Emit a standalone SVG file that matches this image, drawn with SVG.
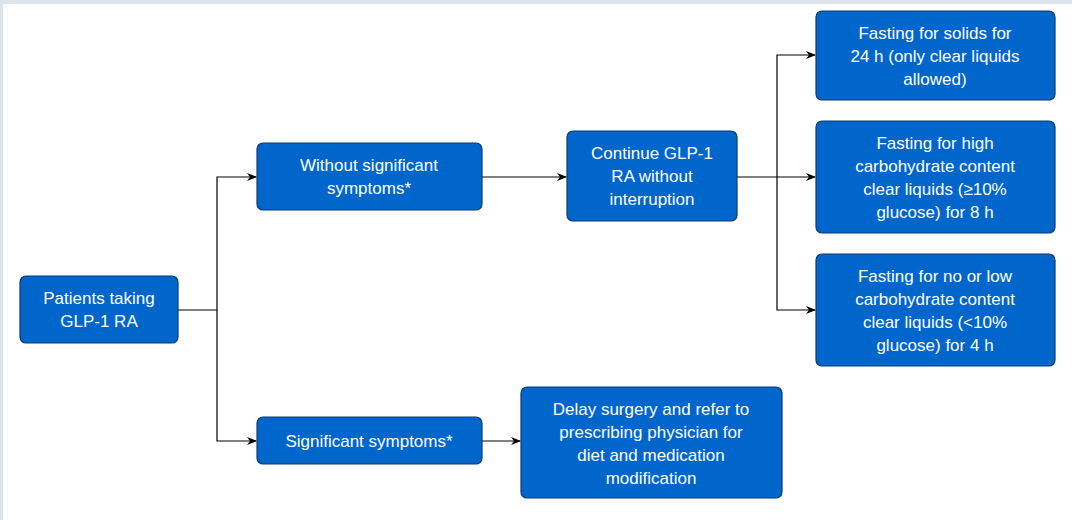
<svg xmlns="http://www.w3.org/2000/svg" width="1072" height="520" viewBox="0 0 1072 520">
<style>
.n rect{fill:#0066cc;stroke:#0b3a6e;stroke-width:1.2}
.n text{fill:#fff;font-family:"Liberation Sans",Arial,sans-serif;font-size:17px;text-anchor:middle}
.c path{fill:none;stroke:#000;stroke-width:1.2}
</style>
<defs><marker id="a" markerWidth="10" markerHeight="8" refX="9" refY="4" orient="auto" markerUnits="userSpaceOnUse"><path d="M0,0 L10,4 L0,8 L3,4 Z" fill="#000"/></marker></defs>
<rect width="1072" height="520" fill="#dce3ec"/>
<rect x="3" y="4" width="1069" height="516" fill="#fff"/>
<g class="c">
<path d="M178,310 H217 V177 H256" marker-end="url(#a)"/>
<path d="M217,310 V441 H256" marker-end="url(#a)"/>
<path d="M482,177 H566" marker-end="url(#a)"/>
<path d="M482,441 H520" marker-end="url(#a)"/>
<path d="M737,177 H815" marker-end="url(#a)"/>
<path d="M777,177 V55 H815" marker-end="url(#a)"/>
<path d="M777,177 V310 H815" marker-end="url(#a)"/>
</g>
<g id="patients" class="n"><rect x="20" y="276" width="158" height="67" rx="6"/><text x="99" y="304">Patients taking</text><text x="99" y="327">GLP-1 RA</text></g>
<g id="without" class="n"><rect x="257" y="143" width="225" height="67" rx="6"/><text x="369" y="171">Without significant</text><text x="369" y="194">symptoms*</text></g>
<g id="significant" class="n"><rect x="257" y="417" width="225" height="47" rx="6"/><text x="369" y="447">Significant symptoms*</text></g>
<g id="continue" class="n"><rect x="567" y="131" width="170" height="90" rx="6"/><text x="652" y="159">Continue GLP-1</text><text x="652" y="182">RA without</text><text x="652" y="205">interruption</text></g>
<g id="delay" class="n"><rect x="521" y="387" width="261" height="111" rx="6"/><text x="651" y="415">Delay surgery and refer to</text><text x="651" y="438">prescribing physician for</text><text x="651" y="461">diet and medication</text><text x="651" y="484">modification</text></g>
<g id="f1" class="n"><rect x="816" y="11" width="239" height="89" rx="6"/><text x="935" y="39">Fasting for solids for</text><text x="935" y="62">24 h (only clear liquids</text><text x="935" y="85">allowed)</text></g>
<g id="f2" class="n"><rect x="816" y="121" width="239" height="112" rx="6"/><text x="935" y="149">Fasting for high</text><text x="935" y="172">carbohydrate content</text><text x="935" y="195">clear liquids (≥10%</text><text x="935" y="218">glucose) for 8 h</text></g>
<g id="f3" class="n"><rect x="816" y="254" width="239" height="112" rx="6"/><text x="935" y="282">Fasting for no or low</text><text x="935" y="305">carbohydrate content</text><text x="935" y="328">clear liquids (&lt;10%</text><text x="935" y="351">glucose) for 4 h</text></g>
</svg>
